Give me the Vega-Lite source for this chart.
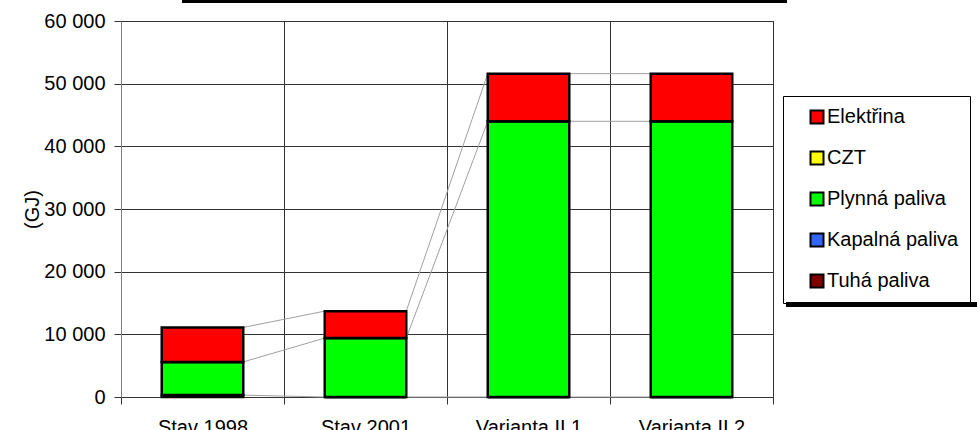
{
  "$schema": "https://vega.github.io/schema/vega-lite/v6.json",
  "autosize": {"type": "none"},
  "padding": {"left": 121, "top": 21, "right": 204, "bottom": 33},
  "width": 652,
  "height": 376,
  "config": {
    "font": "Liberation Sans",
    "view": {"stroke": "#333333", "strokeWidth": 1},
    "axis": {
      "labelFont": "Liberation Sans",
      "labelFontSize": 20,
      "labelColor": "#000000",
      "titleFont": "Liberation Sans",
      "titleFontSize": 20,
      "titleFontWeight": "normal",
      "titleColor": "#000000",
      "gridColor": "#333333",
      "gridOpacity": 1,
      "tickColor": "#333333",
      "tickSize": 7
    }
  },
  "datasets": {
    "pouziti": [
      {"kategorie": "Stav 1998", "palivo": "Tuhá paliva", "poradi": 1, "hodnota": 300},
      {"kategorie": "Stav 1998", "palivo": "Kapalná paliva", "poradi": 2, "hodnota": 0},
      {"kategorie": "Stav 1998", "palivo": "Plynná paliva", "poradi": 3, "hodnota": 5300},
      {"kategorie": "Stav 1998", "palivo": "CZT", "poradi": 4, "hodnota": 0},
      {"kategorie": "Stav 1998", "palivo": "Elektřina", "poradi": 5, "hodnota": 5500},
      {"kategorie": "Stav 2001", "palivo": "Tuhá paliva", "poradi": 1, "hodnota": 0},
      {"kategorie": "Stav 2001", "palivo": "Kapalná paliva", "poradi": 2, "hodnota": 0},
      {"kategorie": "Stav 2001", "palivo": "Plynná paliva", "poradi": 3, "hodnota": 9400},
      {"kategorie": "Stav 2001", "palivo": "CZT", "poradi": 4, "hodnota": 0},
      {"kategorie": "Stav 2001", "palivo": "Elektřina", "poradi": 5, "hodnota": 4300},
      {"kategorie": "Varianta II.1", "palivo": "Tuhá paliva", "poradi": 1, "hodnota": 0},
      {"kategorie": "Varianta II.1", "palivo": "Kapalná paliva", "poradi": 2, "hodnota": 0},
      {"kategorie": "Varianta II.1", "palivo": "Plynná paliva", "poradi": 3, "hodnota": 44000},
      {"kategorie": "Varianta II.1", "palivo": "CZT", "poradi": 4, "hodnota": 0},
      {"kategorie": "Varianta II.1", "palivo": "Elektřina", "poradi": 5, "hodnota": 7600},
      {"kategorie": "Varianta II.2", "palivo": "Tuhá paliva", "poradi": 1, "hodnota": 0},
      {"kategorie": "Varianta II.2", "palivo": "Kapalná paliva", "poradi": 2, "hodnota": 0},
      {"kategorie": "Varianta II.2", "palivo": "Plynná paliva", "poradi": 3, "hodnota": 44000},
      {"kategorie": "Varianta II.2", "palivo": "CZT", "poradi": 4, "hodnota": 0},
      {"kategorie": "Varianta II.2", "palivo": "Elektřina", "poradi": 5, "hodnota": 7600}
    ],
    "spojnice": [
      {"od": "Stav 1998", "do": "Stav 2001", "y1": 300, "y2": 0},
      {"od": "Stav 1998", "do": "Stav 2001", "y1": 5600, "y2": 9400},
      {"od": "Stav 1998", "do": "Stav 2001", "y1": 11100, "y2": 13700},
      {"od": "Stav 2001", "do": "Varianta II.1", "y1": 0, "y2": 0},
      {"od": "Stav 2001", "do": "Varianta II.1", "y1": 9400, "y2": 44000},
      {"od": "Stav 2001", "do": "Varianta II.1", "y1": 13700, "y2": 51600},
      {"od": "Varianta II.1", "do": "Varianta II.2", "y1": 0, "y2": 0},
      {"od": "Varianta II.1", "do": "Varianta II.2", "y1": 44000, "y2": 44000},
      {"od": "Varianta II.1", "do": "Varianta II.2", "y1": 51600, "y2": 51600}
    ]
  },
  "layer": [
    {
      "data": {"name": "spojnice"},
      "mark": {"type": "rule", "strokeWidth": 1},
      "encoding": {
        "x": {
          "field": "od",
          "type": "nominal",
          "bandPosition": 0.75,
          "title": null,
          "scale": {"domain": ["Stav 1998", "Stav 2001", "Varianta II.1", "Varianta II.2"], "paddingInner": 0, "paddingOuter": 0}
        },
        "x2": {"field": "do", "bandPosition": 0.25},
        "y": {"field": "y1", "type": "quantitative", "title": "(GJ)"},
        "y2": {"field": "y2"},
        "stroke": {
          "field": "y1",
          "type": "quantitative",
          "scale": {"range": ["#a0a0a0", "#a0a0a0"]},
          "legend": {
            "type": "gradient",
            "direction": "horizontal",
            "orient": "none",
            "legendX": 667,
            "legendY": 283,
            "gradientLength": 200,
            "gradientThickness": 1,
            "gradientStrokeColor": "#000000",
            "gradientStrokeWidth": 4,
            "labelOpacity": 0,
            "labelFontSize": 1,
            "title": null,
            "padding": 0
          }
        }
      }
    },
    {
      "data": {"name": "pouziti"},
      "mark": {"type": "bar", "width": {"band": 0.5}, "strokeWidth": 2.5},
      "encoding": {
        "x": {
          "field": "kategorie",
          "type": "nominal",
          "title": null,
          "scale": {"domain": ["Stav 1998", "Stav 2001", "Varianta II.1", "Varianta II.2"], "paddingInner": 0, "paddingOuter": 0},
          "axis": {
            "labelAngle": 0,
            "labelAlign": "center",
            "bandPosition": 0.5,
            "tickBand": "extent",
            "grid": true,
            "domainColor": "#333333",
            "labelPadding": 23
          }
        },
        "y": {
          "field": "hodnota",
          "type": "quantitative",
          "stack": "zero",
          "title": "(GJ)",
          "scale": {"domain": [0, 60000], "nice": false},
          "axis": {
            "values": [0, 10000, 20000, 30000, 40000, 50000, 60000],
            "labelExpr": "replace(format(datum.value, ','), ',', ' ')",
            "domainColor": "#808080",
            "labelPadding": 9,
            "titlePadding": 1
          }
        },
        "color": {
          "field": "palivo",
          "type": "nominal",
          "scale": {
            "domain": ["Elektřina", "CZT", "Plynná paliva", "Kapalná paliva", "Tuhá paliva"],
            "range": ["#ff0000", "#ffff00", "#00ff00", "#3366ff", "#800000"]
          },
          "legend": {
            "orient": "none",
            "legendX": 662,
            "legendY": 75,
            "title": null,
            "fillColor": "#ffffff",
            "strokeColor": "#000000",
            "padding": 11,
            "symbolType": "square",
            "symbolSize": 169,
            "symbolStrokeColor": "#000000",
            "symbolStrokeWidth": 2,
            "symbolOpacity": 1,
            "symbolOffset": 13,
            "labelOffset": 0,
            "labelFont": "Liberation Sans",
            "labelFontSize": 20,
            "labelColor": "#000000",
            "labelLimit": 400,
            "rowPadding": 19,
            "labelExpr": "datum.label + '      '"
          }
        },
        "order": {"field": "poradi", "type": "quantitative"},
        "stroke": {
          "field": "hodnota",
          "type": "quantitative",
          "scale": {"range": ["#000000", "#000000"]},
          "legend": {
            "type": "gradient",
            "direction": "horizontal",
            "orient": "none",
            "legendX": 61,
            "legendY": -21,
            "gradientLength": 605,
            "gradientThickness": 3,
            "gradientStrokeWidth": 0,
            "labelOpacity": 0,
            "labelFontSize": 1,
            "title": null,
            "padding": 0
          }
        }
      }
    }
  ],
  "resolve": {"scale": {"stroke": "independent"}, "legend": {"stroke": "independent"}}
}
